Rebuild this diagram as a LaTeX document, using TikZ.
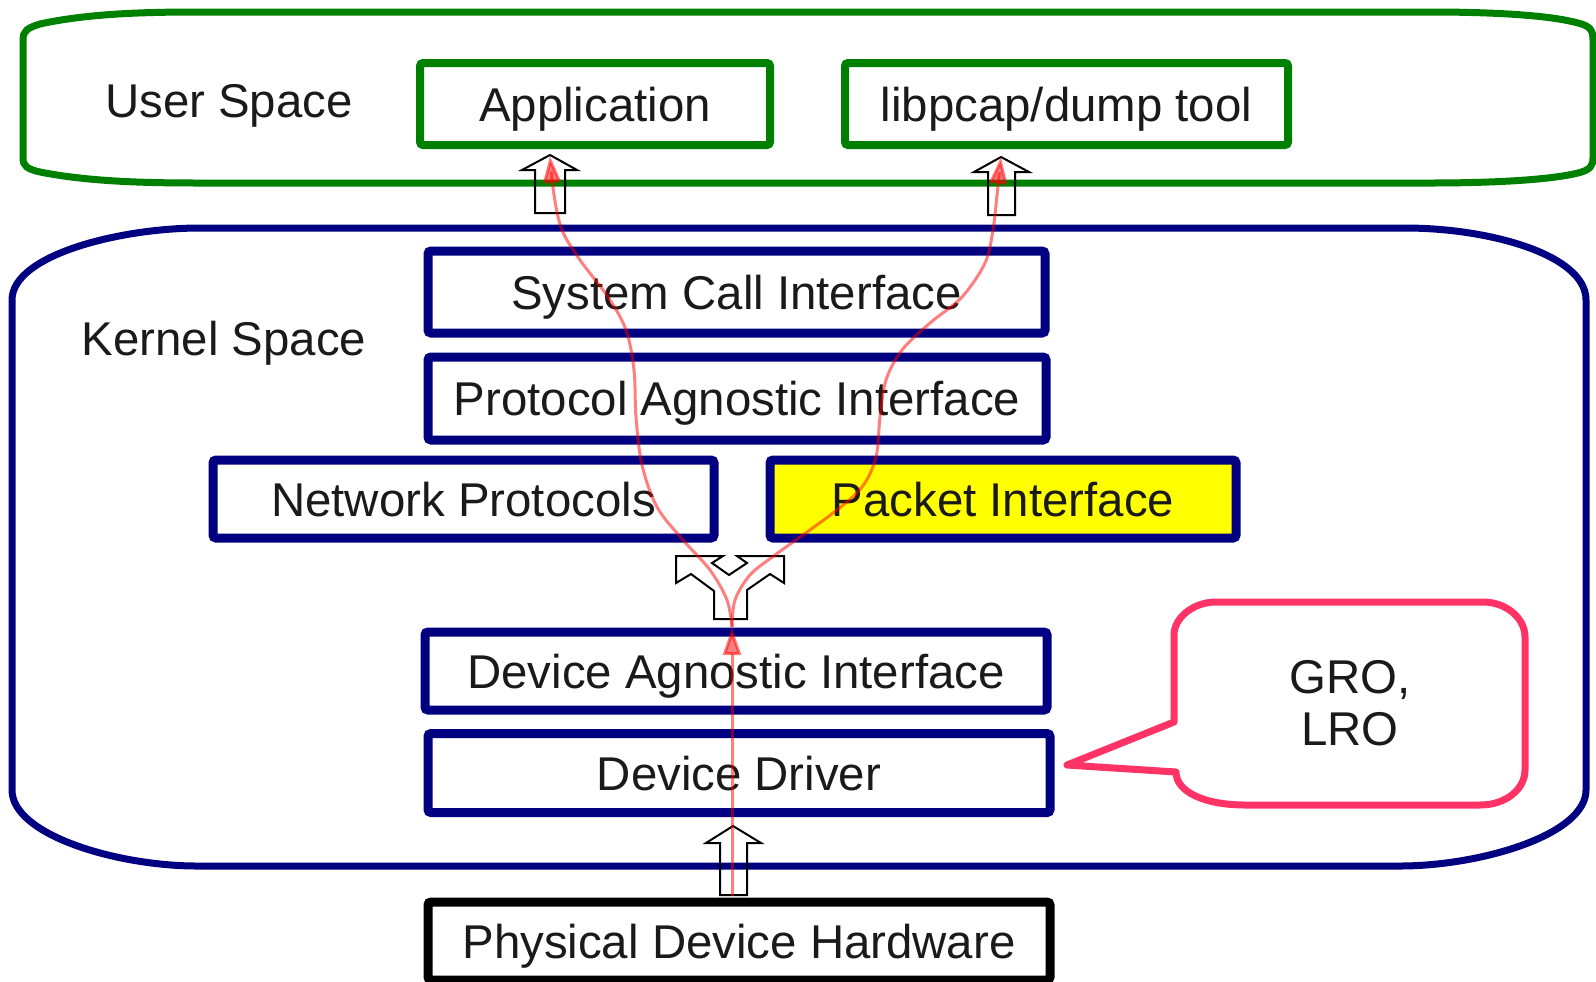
\documentclass[tikz,border=0pt]{standalone}
\usepackage{fontspec}
\setmainfont{Liberation Sans}
\usetikzlibrary{arrows.meta}
\definecolor{ugreen}{HTML}{008000}
\definecolor{knavy}{HTML}{000080}
\definecolor{callred}{HTML}{FF3366}
\definecolor{txt}{HTML}{1A1A1A}
\definecolor{pyellow}{HTML}{FFFF00}
\begin{document}
\begin{tikzpicture}[x=0.5pt,y=-0.5pt,
  lbl/.style={font=\fontsize{23.7}{26}\selectfont, text=txt, inner sep=0pt, text height=17pt, text depth=0pt},
  gbox/.style={lbl, draw=ugreen, line width=4pt, rounded corners=1.5pt, fill=white},
  bbox/.style={lbl, draw=knavy, line width=4.5pt, rounded corners=1.5pt, fill=white},
  kbox/.style={lbl, draw=black, line width=4.5pt, rounded corners=1.5pt, fill=white},
  hollow/.style={draw=black, line width=1pt, line join=miter},
  container/.style={line width=3.5pt},
  flow/.style={draw=red, line width=1.5pt, opacity=0.5, -{Triangle[length=13.5pt,width=9pt]}},
]
\useasboundingbox (0,0) rectangle (1596,981);

% User space container
\draw[container, ugreen] (23,40) .. controls (23,31) and (27,28) .. (40,24)
  .. controls (90,13) and (150,12) .. (200,12) -- (1430,12)
  .. controls (1480,12) and (1545,14) .. (1578,23)
  .. controls (1590,26) and (1593,30) .. (1593,40) -- (1593,158)
  .. controls (1593,166) and (1590,170) .. (1578,173)
  .. controls (1545,181) and (1480,183) .. (1430,183) -- (200,183)
  .. controls (150,183) and (90,182) .. (40,172)
  .. controls (27,169) and (23,166) .. (23,158) -- cycle;

% Kernel space container
\draw[container, knavy] (12,300) .. controls (12,255) and (120,228) .. (200,228) -- (1405,228)
  .. controls (1490,228) and (1586,255) .. (1586,300) -- (1586,790)
  .. controls (1586,835) and (1480,866) .. (1400,866) -- (197,866)
  .. controls (117,866) and (12,835) .. (12,790) -- cycle;

% hollow arrows
\draw[hollow] (535,213) -- (535,170) -- (522,170) -- (550,155) -- (577,170) -- (565,170) -- (565,213) -- cycle;
\draw[hollow] (988,215) -- (988,172) -- (974,172) -- (1001,157) -- (1029,172) -- (1015,172) -- (1015,215) -- cycle;
\draw[hollow] (720,895) -- (720,843) -- (706,843) -- (733,826) -- (761,843) -- (747,843) -- (747,895) -- cycle;
\draw[hollow] (714,619) -- (714,591) -- (691,574) -- (676,583) -- (676,556) -- (723,556) -- (712,563)
  -- (729,575) -- (747,563) -- (737,556) -- (784,556) -- (784,583) -- (770,574) -- (747,590)
  -- (747,619) -- cycle;

% labels
\node[lbl] (us) at (229,100) {User Space};
\node[lbl] (ks) at (224,338) {Kernel Space};

% boxes
\node[gbox, minimum width=175pt, minimum height=41pt] (app) at (595,104) {Application};
\node[gbox, minimum width=221.5pt, minimum height=41pt] (pcap) at (1066.5,104) {libpcap/dump tool};
\node[bbox, minimum width=308.5pt, minimum height=41pt] (sci) at (736.5,292) {System Call Interface};
\node[bbox, minimum width=309pt, minimum height=41.5pt] (pai) at (737,398.5) {Protocol Agnostic Interface};
\node[bbox, minimum width=250.5pt, minimum height=39pt] (np) at (463.5,499) {Network Protocols};
\node[bbox, fill=pyellow, minimum width=233pt, minimum height=39pt] (pi) at (1003,499) {Packet Interface};
\node[bbox, minimum width=311pt, minimum height=39pt] (dai) at (736,671) {Device Agnostic Interface};
\node[bbox, minimum width=311pt, minimum height=39.5pt] (dd) at (739,773) {Device Driver};
\node[kbox, minimum width=311pt, minimum height=39pt] (hw) at (739,941) {Physical Device Hardware};

% callout
\draw[callred, line width=3.5pt, fill=white, line join=round] (1174,722) -- (1174,635)
  .. controls (1174,618) and (1193,602) .. (1216,602) -- (1483,602)
  .. controls (1506,602) and (1525,618) .. (1525,637) -- (1525,770)
  .. controls (1525,789) and (1506,805) .. (1480,805) -- (1245,805)
  .. controls (1205,805) and (1176,792) .. (1176,772) -- (1067,765) -- cycle;
\node[font=\fontsize{23.7}{26}\selectfont, text=txt, align=center, inner sep=0pt] (gro) at (1350,703) {GRO,\\LRO};

% red flows
\coordinate (fbot) at (732,896);
\coordinate (fork) at (732,628);
\coordinate (fapp) at (550,156);
\coordinate (fpcap) at (1001,157);
\draw[flow] (fbot) -- (fork);
\draw[flow] plot[smooth, tension=0.55] coordinates {(732,627) (727,600) (710,570) (683,540) (657,507) (642,465) (636,417) (634,370) (626,330) (608,297) (580,260) (562,230) (554,195) (fapp)};
\draw[flow] plot[smooth, tension=0.55] coordinates {(732,627) (735,600) (750,575) (775,555) (833,513) (862,487) (876,457) (880,417) (886,380) (902,350) (930,323) (962,297) (985,263) (993,230) (997,195) (fpcap)};
\end{tikzpicture}
\end{document}
